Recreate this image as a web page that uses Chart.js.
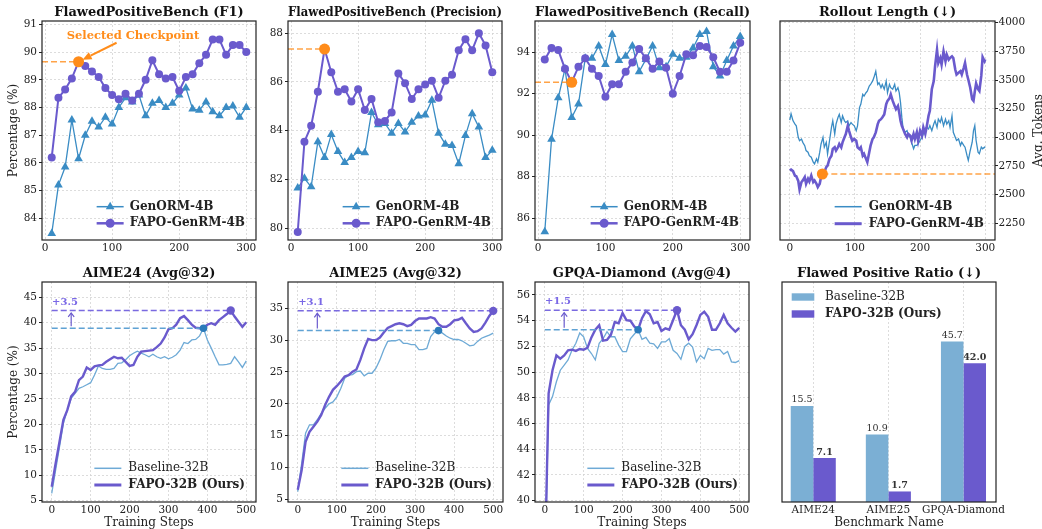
<!DOCTYPE html>
<html>
<head>
<meta charset="utf-8">
<title>FAPO results</title>
<script src="https://cdn.jsdelivr.net/npm/chart.js@4.4.1/dist/chart.umd.min.js"></script>
<style>
  html, body { margin: 0; padding: 0; background: #fff; }
  #board { position: relative; width: 1042px; height: 529px; overflow: hidden; }
  #board canvas { position: absolute; }
</style>
</head>
<body>
<div id="board">
  <canvas id="f1" width="262" height="258" style="left:0px;top:0px"></canvas>
  <canvas id="prec" width="246" height="258" style="left:262px;top:0px"></canvas>
  <canvas id="rec" width="248" height="258" style="left:508px;top:0px"></canvas>
  <canvas id="rollout" width="286" height="258" style="left:756px;top:0px"></canvas>
  <canvas id="aime24" width="262" height="269" style="left:0px;top:260px"></canvas>
  <canvas id="aime25" width="246" height="269" style="left:262px;top:260px"></canvas>
  <canvas id="gpqa" width="248" height="269" style="left:508px;top:260px"></canvas>
  <canvas id="ratio" width="286" height="269" style="left:756px;top:260px"></canvas>
</div>
<script>
// ---- values ----

// FlawedPositiveBench checkpoints
const fpbSteps = [10, 20, 30, 40, 50, 60, 70, 80, 90, 100, 110, 120, 130, 140, 150,
                  160, 170, 180, 190, 200, 210, 220, 230, 240, 250, 260, 270, 280, 290, 300];
const f1GenORM = [83.45, 85.2, 85.85, 87.55, 86.15, 87.0, 87.5, 87.3, 87.65, 87.4, 88.0, 88.35, 88.2, 88.45, 87.7,
                  88.15, 88.25, 88.0, 88.15, 88.45, 88.7, 87.95, 87.9, 88.2, 87.85, 87.7, 88.0, 88.05, 87.65, 88.0];
const f1FAPO = [86.2, 88.35, 88.65, 89.05, 89.65, 89.5, 89.3, 89.1, 88.7, 88.45, 88.3, 88.5, 88.25, 88.5, 89.0,
                89.7, 89.2, 89.05, 89.1, 88.6, 89.1, 89.2, 89.6, 89.9, 90.45, 90.45, 89.9, 90.25, 90.25, 90.0];
const precGenORM = [81.65, 82.05, 81.7, 83.55, 82.9, 83.85, 83.15, 82.7, 82.9, 83.15, 83.1, 84.75, 84.25, 84.3, 83.9,
                    84.3, 83.95, 84.35, 84.6, 84.65, 85.25, 83.9, 83.45, 83.4, 82.65, 83.8, 84.7, 84.15, 82.9, 83.2];
const precFAPO = [79.85, 83.55, 84.2, 85.6, 87.35, 86.4, 85.6, 85.7, 85.2, 85.7, 84.85, 85.3, 84.35, 84.4, 84.75,
                  86.35, 85.95, 85.3, 85.7, 85.9, 86.05, 85.35, 86.05, 86.3, 87.3, 87.75, 87.3, 88.0, 87.5, 86.4];
const recGenORM = [85.35, 89.8, 91.8, 93.2, 90.85, 91.5, 93.7, 93.7, 94.3, 93.4, 94.85, 93.6, 93.8, 94.3, 93.05,
                   93.65, 94.3, 93.25, 93.3, 93.9, 93.7, 93.75, 94.2, 94.85, 95.0, 93.3, 92.85, 93.6, 94.3, 94.75];
const recFAPO = [93.65, 94.2, 94.1, 93.2, 92.55, 93.3, 93.7, 93.2, 92.85, 91.85, 92.45, 92.45, 93.05, 93.5, 94.15,
                 93.7, 93.2, 93.55, 93.25, 92.0, 92.85, 93.9, 93.85, 94.3, 94.25, 93.75, 93.05, 93.05, 93.6, 94.45];
const selectedStep = 50;

// rollout length (tokens)
const rolloutSteps = [0, 2, 5, 8, 10, 13, 15, 18, 20, 23, 25, 28, 30, 33, 36, 38, 41, 43, 46, 48,
  51, 53, 56, 58, 61, 64, 66, 69, 71, 74, 76, 79, 81, 84, 86, 89, 91, 94, 96, 99,
  102, 104, 107, 109, 112, 114, 117, 119, 122, 124, 127, 129, 132, 135, 137, 140, 142, 145, 148, 150,
  153, 155, 158, 161, 163, 166, 168, 170, 172, 174, 177, 180, 182, 185, 187, 190, 192, 195, 197, 200,
  203, 205, 208, 210, 213, 215, 218, 221, 223, 226, 228, 231, 233, 236, 239, 241, 244, 246, 249, 251,
  254, 256, 259, 262, 264, 267, 269, 272, 274, 277, 280, 282, 284, 286, 289, 291, 294, 296, 299, 300];
const rolloutGenORM = [3150, 3205, 3144, 3115, 3100, 3000, 2970, 2985, 2956, 2927, 2884, 2870, 2840, 2826, 2783, 2768, 2812, 2783, 2870, 2942,
  3000, 2913, 2956, 2855, 2970, 3086, 3144, 3028, 3115, 3173, 3201, 3129, 3187, 3144, 3129, 3144, 3100, 3129, 3115, 3100,
  3057, 3100, 3259, 3288, 3375, 3360, 3389, 3403, 3447, 3461, 3490, 3519, 3577, 3461, 3476, 3432, 3461, 3420, 3490, 3390,
  3462, 3433, 3419, 3462, 3404, 3433, 3390, 3303, 3174, 3073, 3044, 3058, 3015, 3000, 2957, 2900, 2929, 2929, 2943, 2972,
  3000, 3030, 3058, 3087, 3073, 3102, 3058, 3116, 3145, 3087, 3159, 3130, 3174, 3102, 3159, 3116, 3145, 3087, 3188, 3044,
  3000, 2972, 2986, 2929, 2957, 2929, 2914, 2842, 2799, 2885, 2957, 3058, 3102, 2972, 2871, 2857, 2914, 2900, 2914, 2910];
const rolloutFAPO = [2711, 2718, 2705, 2665, 2660, 2620, 2545, 2610, 2624, 2653, 2595, 2639, 2615, 2667, 2610, 2624, 2595, 2566, 2595, 2653,
  2667, 2696, 2740, 2754, 2812, 2840, 2898, 2913, 2884, 2913, 2942, 2913, 2956, 3000, 3028, 3100, 3057, 3000, 2970, 2985,
  2970, 2913, 2898, 2913, 2840, 2855, 2812, 2783, 2870, 2927, 2985, 3000, 3043, 3115, 3144, 3158, 3173, 3200, 3289, 3318,
  3340, 3375, 3318, 3274, 3246, 3274, 3217, 3145, 3100, 3073, 3030, 3000, 3030, 3015, 2972, 3030, 2986, 3044, 2972, 3058,
  3015, 3087, 3030, 3087, 3188, 3231, 3419, 3491, 3620, 3764, 3649, 3692, 3635, 3750, 3664, 3721, 3678, 3692, 3707, 3692,
  3591, 3548, 3563, 3577, 3548, 3606, 3649, 3548, 3505, 3433, 3332, 3318, 3400, 3470, 3420, 3404, 3540, 3700, 3664, 3680];
const rolloutSelected = 2680;

// evaluation accuracy during RL training
const evalSteps = [0, 10, 20, 30, 40, 50, 60, 70, 80, 90, 100, 110, 120, 130, 140, 150, 160, 170, 180, 190, 200,
  210, 220, 230, 240, 250, 260, 270, 280, 290, 300, 310, 320, 330, 340, 350, 360, 370, 380, 390, 400,
  410, 420, 430, 440, 450, 460, 470, 480, 490, 500];
const aime24Base = [6.45, 11.0, 15.6, 20.2, 22.8, 25.1, 26.1, 27.1, 27.4, 27.8, 28.2, 29.7, 31.5, 31.0, 30.8, 30.8, 31.0, 32.0, 32.1, 32.7, 33.5,
  34.0, 34.4, 34.0, 33.7, 33.3, 33.8, 33.3, 33.0, 33.3, 32.9, 33.2, 33.7, 34.6, 36.1, 35.9, 36.6, 36.7, 37.4, 38.9, 36.6,
  35.0, 33.3, 31.7, 31.7, 31.8, 32.0, 33.3, 32.3, 31.2, 32.5];
const aime24FAPO = [7.75, 12.3, 16.6, 20.9, 22.8, 25.5, 26.4, 28.7, 29.4, 31.2, 30.7, 31.4, 31.6, 31.7, 32.3, 32.8, 33.3, 33.0, 33.1, 32.3, 31.5,
  31.7, 33.3, 34.3, 34.4, 34.5, 34.6, 35.2, 35.9, 37.1, 38.7, 38.9, 39.6, 40.9, 41.3, 40.5, 39.6, 39.0, 38.9, 39.0, 39.6,
  39.9, 39.6, 40.5, 41.1, 41.7, 42.4, 41.2, 40.2, 39.2, 40.1];
const aime25Base = [6.2, 10.65, 15.4, 16.7, 16.7, 17.5, 18.5, 19.3, 20.0, 20.3, 21.1, 22.4, 24.0, 24.5, 24.6, 25.05, 25.15, 24.4, 24.8, 24.8, 25.6,
  26.9, 28.5, 29.8, 29.9, 29.9, 30.1, 29.5, 29.5, 29.3, 29.3, 28.5, 28.5, 28.7, 30.55, 31.3, 31.5, 31.1, 30.65, 30.3, 30.1,
  30.1, 29.9, 29.5, 29.1, 29.2, 29.8, 30.3, 30.55, 30.8, 31.1];
const aime25FAPO = [6.5, 9.6, 14.05, 15.6, 16.4, 17.2, 18.25, 19.8, 21.1, 22.2, 22.8, 23.5, 24.3, 24.5, 25.05, 25.4, 26.9, 28.7, 30.2, 30.0, 30.0,
  30.4, 31.2, 31.9, 32.2, 32.5, 32.65, 32.5, 32.2, 32.4, 33.0, 33.4, 33.4, 33.4, 33.6, 33.4, 32.5, 32.1, 32.1, 32.5, 33.1,
  33.2, 33.5, 32.65, 31.85, 31.3, 31.4, 31.85, 32.75, 33.8, 34.6];
const gpqaBase = [34.0, 47.45, 48.1, 49.25, 50.15, 50.55, 50.95, 51.7, 52.25, 53.05, 52.75, 51.85, 51.45, 50.95, 52.25, 52.6, 53.15, 52.75, 52.75, 52.1, 51.6,
  51.6, 52.6, 52.95, 53.3, 52.55, 52.7, 52.25, 52.2, 51.85, 52.35, 52.35, 52.6, 51.7, 51.45, 51.0, 52.0, 52.25, 51.95, 50.8, 51.3,
  51.05, 51.85, 51.7, 51.75, 51.75, 51.4, 51.6, 50.8, 50.75, 50.9];
const gpqaFAPO = [34.5, 48.35, 50.15, 51.3, 51.05, 51.3, 51.7, 51.75, 51.65, 51.8, 51.75, 51.9, 52.7, 53.3, 53.65, 52.45, 52.5, 52.9, 53.9, 53.8, 54.6,
  54.05, 54.0, 53.55, 53.3, 54.2, 54.75, 54.5, 53.8, 53.9, 53.2, 53.4, 53.3, 54.05, 54.82, 53.65, 53.3, 52.55, 52.95, 53.65, 54.45,
  54.7, 54.3, 53.3, 53.3, 53.8, 54.45, 53.8, 53.45, 53.15, 53.45];

// flawed positive ratio
const benchmarks = ['AIME24', 'AIME25', 'GPQA-Diamond'];
const ratioBaseline = [15.5, 10.9, 45.7];
const ratioFAPO = [7.1, 1.7, 42.0];
// bar heights as drawn in the figure (the GPQA pair sits lower than its label)
const ratioBarBaseline = [15.5, 10.9, 25.9];
const ratioBarFAPO = [7.1, 1.7, 22.4];

// tick labels
const fpbXTicks = [0, 100, 200, 300];
const f1YTicks = [84, 85, 86, 87, 88, 89, 90, 91];
const precYTicks = [80, 82, 84, 86, 88];
const recYTicks = [86, 88, 90, 92, 94];
const rolloutYTicks = [2250, 2500, 2750, 3000, 3250, 3500, 3750, 4000];
const evalXTicks = [0, 100, 200, 300, 400, 500];
const aime24YTicks = [5, 10, 15, 20, 25, 30, 35, 40, 45];
const aime25YTicks = [5, 10, 15, 20, 25, 30, 35];
const gpqaYTicks = [40, 42, 44, 46, 48, 50, 52, 54, 56];

// ---- styles ----
const SERIF = "'DejaVu Serif', serif";
const BLUE = '#3a8cc4';
const LIGHT_BLUE = '#6eaad6';
const BAR_BLUE = '#7bafd4';
const PURPLE = '#6a5acd';
const ORANGE = '#ff8c1a';
const GRID = '#d4d4d4';

Chart.defaults.font.family = SERIF;
Chart.defaults.color = '#222';

const xy = (xs, ys) => xs.map((x, i) => ({ x: x, y: ys[i] }));
const tickList = values => scale => { scale.ticks = values.map(v => ({ value: v })); };

// box round the plot area, like matplotlib spines
const frame = {
  id: 'frame',
  afterDatasetsDraw(chart) {
    const { ctx, chartArea: a } = chart;
    ctx.save();
    ctx.strokeStyle = '#222';
    ctx.lineWidth = 1.2;
    ctx.strokeRect(a.left, a.top, a.right - a.left, a.bottom - a.top);
    ctx.restore();
  }
};

// legend with per-item bold text
const legendBox = {
  id: 'legendBox',
  afterDraw(chart, args, o) {
    if (!o || !o.items) return;
    const { ctx, chartArea: a } = chart;
    const items = o.items;
    const fontOf = it => (it.bold ? 'bold ' : '') + '12px ' + SERIF;
    ctx.save();
    let textW = 0;
    items.forEach(it => { ctx.font = fontOf(it); textW = Math.max(textW, ctx.measureText(it.text).width); });
    let x0, y0;
    if (o.corner === 'upperLeft') {
      x0 = a.left + o.padX;
      y0 = a.top + o.padY;
    } else {
      x0 = a.right - o.padX - textW - o.handle - o.gap;
      y0 = a.bottom - o.padY - o.rowH * (items.length - 1);
    }
    items.forEach((it, i) => {
      const cy = y0 + i * o.rowH;
      ctx.fillStyle = it.color;
      ctx.strokeStyle = it.color;
      if (it.rect) {
        ctx.fillRect(x0, cy - 3.7, o.handle, 7.4);
      } else {
        ctx.lineWidth = it.width;
        ctx.beginPath();
        ctx.moveTo(x0, cy);
        ctx.lineTo(x0 + o.handle, cy);
        ctx.stroke();
        if (it.marker) {
          Chart.helpers.drawPoint(ctx, { pointStyle: it.marker, radius: it.radius, rotation: 0, borderWidth: 0 }, x0 + o.handle / 2, cy);
        }
      }
      ctx.fillStyle = '#222';
      ctx.font = fontOf(it);
      ctx.textAlign = 'left';
      ctx.textBaseline = 'middle';
      ctx.fillText(it.text, x0 + o.handle + o.gap, cy);
    });
    ctx.restore();
  }
};

Chart.register(frame, legendBox);

function titleOpts(text, top, bottom) {
  return {
    display: true, text: text, fullSize: false, color: '#111',
    font: { size: 13, weight: 'bold', lineHeight: 1.2 },
    padding: { top: top, bottom: bottom }
  };
}

function xAxis(o) {
  return {
    type: 'linear', min: o.xMin, max: o.xMax, offset: false,
    afterBuildTicks: tickList(o.xTicks),
    afterFit: s => { s.height = o.xh; },
    ticks: { font: { size: 10.5 }, padding: 1.5, autoSkip: false, maxRotation: 0, callback: v => String(v) },
    grid: { color: GRID, lineWidth: 0.8, drawTicks: false },
    border: { display: false, dash: [2, 2] },
    title: o.xTitle
      ? { display: true, text: o.xTitle, font: { size: 12, lineHeight: 1 }, padding: { top: 0, bottom: 0 } }
      : { display: false }
  };
}

function yAxis(o) {
  const right = o.yPos === 'right';
  return {
    type: 'linear', position: right ? 'right' : 'left', min: o.yMin, max: o.yMax,
    afterBuildTicks: tickList(o.yTicks),
    afterFit: s => { s.width = o.yw; },
    ticks: { font: { size: 10.5 }, padding: right ? 0.5 : 2, autoSkip: false, callback: v => String(v) },
    grid: { color: GRID, lineWidth: 0.8, drawTicks: true, tickLength: 3, tickColor: '#222', tickWidth: 1 },
    border: { display: false, dash: [2, 2] },
    title: o.yTitle
      ? { display: true, text: o.yTitle, font: { size: 12, lineHeight: 1.2 }, padding: { top: 6.3, bottom: 0 } }
      : { display: false }
  };
}

function linePanel(id, o) {
  return new Chart(document.getElementById(id), {
    type: 'line',
    data: { datasets: o.datasets },
    options: {
      responsive: false,
      animation: false,
      layout: { padding: { left: o.padLeft || 0, right: o.padRight || 0, top: 0, bottom: 0 } },
      elements: { line: { tension: 0 } },
      scales: { x: xAxis(o), y: yAxis(o) },
      plugins: {
        legend: { display: false },
        tooltip: { enabled: false },
        title: titleOpts(o.title, o.titleTop, o.titleBottom),
        legendBox: o.legend
      }
    },
    plugins: o.plugins || []
  });
}

// ---- top row: FlawedPositiveBench + rollout ----
const selIdx = fpbSteps.indexOf(selectedStep);
const FPB_X = { xMin: -4.5, xMax: 314.5, xTicks: fpbXTicks, xh: 18, titleTop: 4.5, titleBottom: 0.9 };

function fpbDatasets(genorm, fapo) {
  const sel = fapo[selIdx];
  return [
    { data: [{ x: selectedStep, y: sel }], showLine: false, pointRadius: 5.5, pointBackgroundColor: ORANGE, pointBorderWidth: 0 },
    { data: [{ x: FPB_X.xMin, y: sel }, { x: selectedStep, y: sel }], borderColor: 'rgba(255,140,26,0.8)',
      borderWidth: 1.5, borderDash: [6, 3], pointRadius: 0 },
    { label: 'FAPO-GenRM-4B', data: xy(fpbSteps, fapo), borderColor: PURPLE, borderWidth: 2,
      pointStyle: 'circle', pointRadius: 4, pointBackgroundColor: PURPLE, pointBorderWidth: 0 },
    { label: 'GenORM-4B', data: xy(fpbSteps, genorm), borderColor: BLUE, borderWidth: 1.3,
      pointStyle: 'triangle', pointRadius: 5, pointBackgroundColor: BLUE, pointBorderWidth: 0 }
  ];
}

const fpbLegend = {
  corner: 'lowerRight', padX: 11, padY: 16.7, rowH: 16.6, handle: 27, gap: 6,
  items: [
    { text: 'GenORM-4B', color: BLUE, width: 1.5, marker: 'triangle', radius: 5, bold: true },
    { text: 'FAPO-GenRM-4B', color: PURPLE, width: 2.5, marker: 'circle', radius: 4.5, bold: true }
  ]
};

// "Selected Checkpoint" label with arrow
const checkpointNote = {
  id: 'checkpointNote',
  afterDatasetsDraw(chart) {
    const { ctx, chartArea: a, scales: { x, y } } = chart;
    const px = x.getPixelForValue(selectedStep);
    const py = y.getPixelForValue(f1FAPO[selIdx]);
    ctx.save();
    ctx.fillStyle = ORANGE;
    ctx.strokeStyle = ORANGE;
    ctx.font = 'bold 11.5px ' + SERIF;
    ctx.textAlign = 'center';
    ctx.textBaseline = 'alphabetic';
    ctx.fillText('Selected Checkpoint', a.left + 91, a.top + 18.3);
    const tx = px + 38, ty = py - 19, hx = px + 4, hy = py - 2;
    const ang = Math.atan2(hy - ty, hx - tx);
    const hl = 9, hw = 4;
    const bx = hx - hl * Math.cos(ang), by = hy - hl * Math.sin(ang);
    ctx.lineWidth = 2;
    ctx.beginPath();
    ctx.moveTo(tx, ty);
    ctx.lineTo(bx, by);
    ctx.stroke();
    ctx.beginPath();
    ctx.moveTo(hx, hy);
    ctx.lineTo(bx + hw * Math.sin(ang), by - hw * Math.cos(ang));
    ctx.lineTo(bx - hw * Math.sin(ang), by + hw * Math.cos(ang));
    ctx.closePath();
    ctx.fill();
    ctx.restore();
  }
};

linePanel('f1', Object.assign({}, FPB_X, {
  title: 'FlawedPositiveBench (F1)', yw: 42, padRight: 6,
  yMin: 83.22, yMax: 91.12, yTicks: f1YTicks, yTitle: 'Percentage (%)',
  datasets: fpbDatasets(f1GenORM, f1FAPO), legend: fpbLegend, plugins: [checkpointNote]
}));

linePanel('prec', Object.assign({}, FPB_X, {
  title: 'FlawedPositiveBench (Precision)', yw: 26, padRight: 6,
  yMin: 79.52, yMax: 88.5, yTicks: precYTicks,
  datasets: fpbDatasets(precGenORM, precFAPO), legend: fpbLegend
}));

linePanel('rec', Object.assign({}, FPB_X, {
  title: 'FlawedPositiveBench (Recall)', yw: 27, padRight: 6,
  yMin: 84.95, yMax: 95.5, yTicks: recYTicks,
  datasets: fpbDatasets(recGenORM, recFAPO), legend: fpbLegend
}));

// right-hand axis title reads bottom-to-top, as in matplotlib
const tokensTitle = {
  id: 'tokensTitle',
  afterDraw(chart) {
    const { ctx, chartArea: a, width } = chart;
    ctx.save();
    ctx.translate(width, (a.top + a.bottom) / 2);
    ctx.rotate(-Math.PI / 2);
    ctx.font = '12px ' + SERIF;
    ctx.fillStyle = '#222';
    ctx.textAlign = 'center';
    ctx.textBaseline = 'alphabetic';
    ctx.fillText('Avg. Tokens', 0, 0);
    ctx.restore();
  }
};

linePanel('rollout', {
  title: 'Rollout Length (↓)', titleTop: 4.5, titleBottom: 0.9,
  xMin: -15, xMax: 315, xTicks: fpbXTicks, xh: 18,
  yPos: 'right', yw: 47, padLeft: 24,
  yMin: 2104, yMax: 4015, yTicks: rolloutYTicks,
  datasets: [
    { data: [{ x: selectedStep, y: rolloutSelected }], showLine: false, pointRadius: 5.5, pointBackgroundColor: ORANGE, pointBorderWidth: 0 },
    { data: [{ x: selectedStep, y: rolloutSelected }, { x: 315, y: rolloutSelected }], borderColor: 'rgba(255,140,26,0.8)',
      borderWidth: 1.5, borderDash: [6, 3], pointRadius: 0 },
    { label: 'FAPO-GenRM-4B', data: xy(rolloutSteps, rolloutFAPO), borderColor: PURPLE, borderWidth: 2.6, pointRadius: 0 },
    { label: 'GenORM-4B', data: xy(rolloutSteps, rolloutGenORM), borderColor: BLUE, borderWidth: 1.3, pointRadius: 0 }
  ],
  legend: {
    corner: 'lowerRight', padX: 11, padY: 16.3, rowH: 17, handle: 27, gap: 7,
    items: [
      { text: 'GenORM-4B', color: BLUE, width: 1.5, bold: true },
      { text: 'FAPO-GenRM-4B', color: PURPLE, width: 3, bold: true }
    ]
  },
  plugins: [tokensTitle]
});

// ---- bottom row: accuracy curves ----
const EVAL_X = { xMin: -25, xMax: 525, xTicks: evalXTicks, xh: 27, xTitle: 'Training Steps', titleTop: 5.5, titleBottom: 0.9 };

function evalDatasets(base, fapo) {
  const bMax = Math.max(...base), fMax = Math.max(...fapo);
  const bStep = evalSteps[base.indexOf(bMax)], fStep = evalSteps[fapo.indexOf(fMax)];
  return [
    { data: [{ x: fStep, y: fMax }], showLine: false, pointRadius: 4.2, pointBackgroundColor: PURPLE, pointBorderWidth: 0 },
    { data: [{ x: bStep, y: bMax }], showLine: false, pointRadius: 3.8, pointBackgroundColor: '#2b7bba', pointBorderWidth: 0 },
    { data: [{ x: 0, y: fMax }, { x: fStep, y: fMax }], borderColor: '#7a6ae0', borderWidth: 1.5, borderDash: [6, 3], pointRadius: 0 },
    { data: [{ x: 0, y: bMax }, { x: bStep, y: bMax }], borderColor: '#5fa2d4', borderWidth: 1.5, borderDash: [6, 3], pointRadius: 0 },
    { label: 'FAPO-32B (Ours)', data: xy(evalSteps, fapo), borderColor: PURPLE, borderWidth: 2.4, pointRadius: 0 },
    { label: 'Baseline-32B', data: xy(evalSteps, base), borderColor: LIGHT_BLUE, borderWidth: 1.3, pointRadius: 0 }
  ];
}

// "+x.x" gain arrow between the two best values
function gainNote(base, fapo) {
  return {
    id: 'gainNote',
    afterDatasetsDraw(chart) {
      const { ctx, scales: { x, y } } = chart;
      const bMax = Math.max(...base), fMax = Math.max(...fapo);
      const ax = x.getPixelForValue(50);
      const yb = y.getPixelForValue(bMax), yf = y.getPixelForValue(fMax);
      ctx.save();
      ctx.strokeStyle = PURPLE;
      ctx.lineWidth = 1.2;
      ctx.beginPath();
      ctx.moveTo(ax, yb - 2);
      ctx.lineTo(ax, yf + 2.5);
      ctx.stroke();
      ctx.beginPath();
      ctx.moveTo(ax - 3, yf + 6.5);
      ctx.lineTo(ax, yf + 2.5);
      ctx.lineTo(ax + 3, yf + 6.5);
      ctx.stroke();
      ctx.fillStyle = '#7a68e6';
      ctx.font = 'bold 10px ' + SERIF;
      ctx.textAlign = 'center';
      ctx.textBaseline = 'middle';
      ctx.fillText('+' + (fMax - bMax).toFixed(1), x.getPixelForValue(34), yf - 8.5);
      ctx.restore();
    }
  };
}

const evalLegend = {
  corner: 'lowerRight', padX: 11, padY: 17, rowH: 16.7, handle: 27, gap: 7,
  items: [
    { text: 'Baseline-32B', color: LIGHT_BLUE, width: 1.5 },
    { text: 'FAPO-32B (Ours)', color: PURPLE, width: 3, bold: true }
  ]
};

linePanel('aime24', Object.assign({}, EVAL_X, {
  title: 'AIME24 (Avg@32)', yw: 42, padRight: 6,
  yMin: 4.74, yMax: 48.0, yTicks: aime24YTicks, yTitle: 'Percentage (%)',
  datasets: evalDatasets(aime24Base, aime24FAPO), legend: evalLegend, plugins: [gainNote(aime24Base, aime24FAPO)]
}));

linePanel('aime25', Object.assign({}, EVAL_X, {
  title: 'AIME25 (Avg@32)', yw: 26, padRight: 5,
  yMin: 4.58, yMax: 39.13, yTicks: aime25YTicks,
  datasets: evalDatasets(aime25Base, aime25FAPO), legend: evalLegend, plugins: [gainNote(aime25Base, aime25FAPO)]
}));

linePanel('gpqa', Object.assign({}, EVAL_X, {
  title: 'GPQA-Diamond (Avg@4)', yw: 27, padRight: 7,
  yMin: 39.9, yMax: 57.01, yTicks: gpqaYTicks,
  datasets: evalDatasets(gpqaBase, gpqaFAPO), legend: evalLegend, plugins: [gainNote(gpqaBase, gpqaFAPO)]
}));

// ---- flawed positive ratio bars ----
const benchIdx = benchmarks.map((b, i) => i);

const barLabels = {
  id: 'barLabels',
  afterDatasetsDraw(chart) {
    const ctx = chart.ctx;
    ctx.save();
    ctx.fillStyle = '#333';
    ctx.textAlign = 'center';
    ctx.textBaseline = 'alphabetic';
    [ratioBaseline, ratioFAPO].forEach((vals, di) => {
      ctx.font = (di ? 'bold ' : '') + '9.5px ' + SERIF;
      chart.getDatasetMeta(di).data.forEach((bar, i) => {
        ctx.fillText(vals[i].toFixed(1), bar.x, bar.y - 3.5);
      });
    });
    ctx.restore();
  }
};

new Chart(document.getElementById('ratio'), {
  type: 'bar',
  data: {
    datasets: [
      { label: 'Baseline-32B', data: xy(benchIdx, ratioBarBaseline), backgroundColor: BAR_BLUE, categoryPercentage: 0.6, barPercentage: 1 },
      { label: 'FAPO-32B (Ours)', data: xy(benchIdx, ratioBarFAPO), backgroundColor: PURPLE, categoryPercentage: 0.6, barPercentage: 1 }
    ]
  },
  options: {
    responsive: false,
    animation: false,
    layout: { padding: { left: 26, right: 46, top: 0, bottom: 0 } },
    scales: {
      x: {
        type: 'linear', min: -0.416, max: 2.433, offset: false,
        afterBuildTicks: tickList(benchIdx),
        afterFit: s => { s.height = 27; },
        ticks: { font: { size: 10.5 }, padding: 1.5, autoSkip: false, maxRotation: 0, callback: v => benchmarks[v] },
        grid: { color: GRID, lineWidth: 0.8, drawTicks: false, offset: false },
        border: { display: false, dash: [2, 2] },
        title: { display: true, text: 'Benchmark Name', font: { size: 12, lineHeight: 1 }, padding: { top: 0, bottom: 0 } }
      },
      y: { display: false, min: 0, max: 35.5 }
    },
    plugins: {
      legend: { display: false },
      tooltip: { enabled: false },
      title: titleOpts('Flawed Positive Ratio (↓)', 5.5, 0.9),
      legendBox: {
        corner: 'upperLeft', padX: 9.7, padY: 15, rowH: 17, handle: 22.6, gap: 10.7,
        items: [
          { text: 'Baseline-32B', color: BAR_BLUE, rect: true },
          { text: 'FAPO-32B (Ours)', color: PURPLE, rect: true, bold: true }
        ]
      }
    }
  },
  plugins: [barLabels]
});
</script>
</body>
</html>
